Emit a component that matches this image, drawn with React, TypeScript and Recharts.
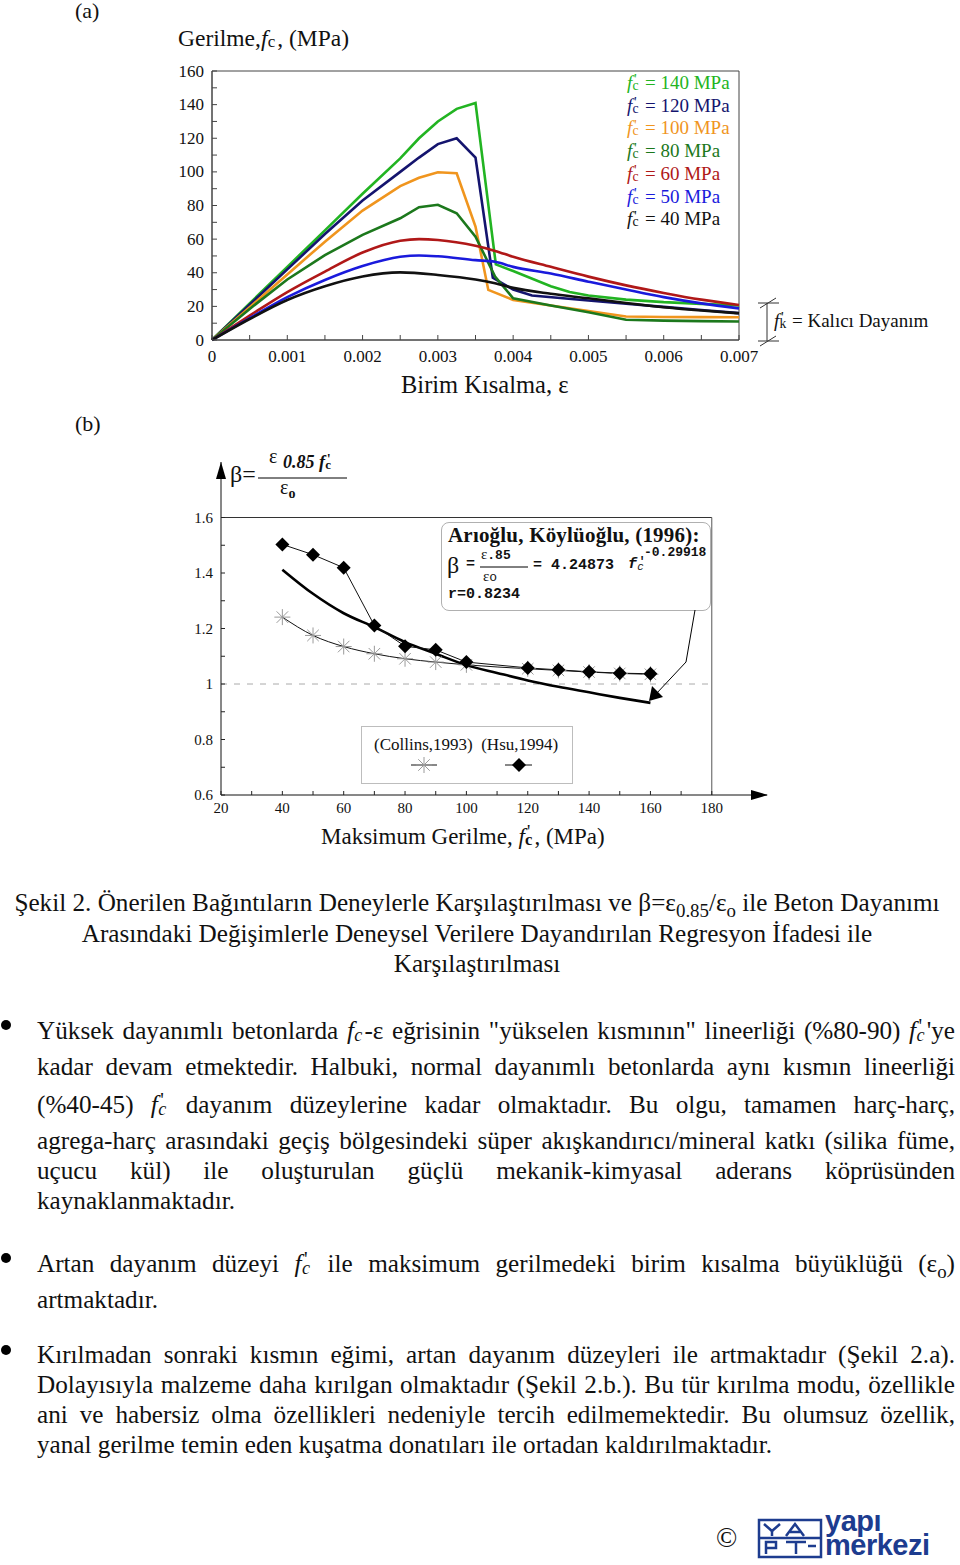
import React from 'react';
import { LineChart, ComposedChart, Line, XAxis, YAxis, ReferenceLine, ReferenceArea } from 'recharts';

const SERIF = "'Liberation Serif', 'Times New Roman', serif";
const MONO = "'Liberation Mono', 'Courier New', monospace";
const SANS = "'Liberation Sans', Arial, sans-serif";

// (a) stress-strain curves, [strain, stress MPa]
const strainTicks = [0, 0.0005, 0.001, 0.0015, 0.002, 0.0025, 0.003, 0.0035, 0.004, 0.0045, 0.005, 0.0055, 0.006, 0.0065, 0.007];
const stressTicks = [0, 10, 20, 30, 40, 50, 60, 70, 80, 90, 100, 110, 120, 130, 140, 150, 160];

const curve140: [number, number][] = [
  [0, 0], [0.0005, 21.8], [0.001, 43.5], [0.0015, 65.2], [0.002, 87], [0.0025, 108], [0.00275, 120],
  [0.003, 130], [0.00325, 137.5], [0.0035, 141], [0.00377, 45], [0.004, 41], [0.0045, 32], [0.00475, 28.5],
  [0.005, 26.5], [0.0055, 24], [0.006, 22.5], [0.0065, 21.5], [0.007, 20.5],
];
const curve120: [number, number][] = [
  [0, 0], [0.0005, 21], [0.001, 42], [0.0015, 63], [0.002, 83], [0.0025, 100], [0.00275, 108.5],
  [0.003, 116.5], [0.00325, 120], [0.0035, 108.5], [0.00373, 37], [0.004, 30], [0.00425, 26.5],
  [0.005, 23.5], [0.0055, 21.6], [0.006, 19.7], [0.0065, 17.8], [0.007, 16],
];
const curve100: [number, number][] = [
  [0, 0], [0.0005, 19.5], [0.001, 39], [0.0015, 58.5], [0.002, 77], [0.0025, 91.5], [0.00275, 96.5],
  [0.003, 99.8], [0.00325, 99.2], [0.0035, 67.5], [0.00367, 29.8], [0.004, 23.8], [0.0045, 20.5],
  [0.005, 17.3], [0.0055, 14], [0.006, 13.7], [0.0065, 13.6], [0.007, 13.5],
];
const curve80: [number, number][] = [
  [0, 0], [0.0005, 18.5], [0.001, 36], [0.0015, 50.5], [0.002, 62.5], [0.0025, 72.4], [0.00275, 79],
  [0.003, 80.4], [0.00325, 75.4], [0.0035, 61.5], [0.00376, 37.7], [0.004, 24.8], [0.0045, 20.5],
  [0.005, 16.5], [0.0055, 12], [0.006, 11.5], [0.0065, 11.2], [0.007, 11],
];
const curve60: [number, number][] = [
  [0, 0], [0.0005, 14.5], [0.001, 28.5], [0.0015, 40.7], [0.002, 52], [0.0025, 59], [0.00275, 60],
  [0.003, 59.5], [0.0035, 56], [0.00376, 53], [0.004, 49.5], [0.0045, 43.5], [0.005, 37.7],
  [0.0055, 32.5], [0.006, 28], [0.0065, 24], [0.007, 20.8],
];
const curve50: [number, number][] = [
  [0, 0], [0.0005, 13], [0.001, 25.5], [0.0015, 35.7], [0.002, 44], [0.0025, 49.5], [0.00275, 50.3],
  [0.003, 49.8], [0.0035, 47.5], [0.00376, 46.5], [0.004, 43.5], [0.0045, 39.5], [0.005, 34.7],
  [0.0055, 30], [0.006, 25.5], [0.0065, 21.8], [0.007, 18.8],
];
const curve40: [number, number][] = [
  [0, 0], [0.0005, 12.5], [0.001, 23.8], [0.0015, 32], [0.002, 37.8], [0.0025, 40.2], [0.003, 38.7],
  [0.0035, 36], [0.00376, 33.7], [0.004, 31], [0.0045, 27.5], [0.005, 24.8], [0.0055, 22],
  [0.006, 19.5], [0.0065, 17.5], [0.007, 15.9],
];

const seriesA = [
  { label: '140', color: '#22b422', pts: curve140, smooth: false },
  { label: '120', color: '#14146e', pts: curve120, smooth: false },
  { label: '100', color: '#f0951e', pts: curve100, smooth: false },
  { label: '80', color: '#1c781c', pts: curve80, smooth: false },
  { label: '60', color: '#b01818', pts: curve60, smooth: true },
  { label: '50', color: '#1a1adc', pts: curve50, smooth: true },
  { label: '40', color: '#111111', pts: curve40, smooth: true },
];

// (b) beta vs fc'
const fcTicks = [20, 30, 40, 50, 60, 70, 80, 90, 100, 110, 120, 130, 140, 150, 160, 170, 180];
const betaTicks = [0.6, 0.7, 0.8, 0.9, 1.0, 1.1, 1.2, 1.3, 1.4, 1.5, 1.6];
const hsuFc = [40, 50, 60, 70, 80, 90, 100, 120, 130, 140, 150, 160];
const hsuBeta = [1.503, 1.466, 1.419, 1.211, 1.136, 1.123, 1.079, 1.058, 1.051, 1.044, 1.039, 1.037];
const collinsFc = [40, 50, 60, 70, 80, 90, 100, 120, 130, 140, 150, 160];
const collinsBeta = [1.241, 1.175, 1.135, 1.109, 1.091, 1.079, 1.069, 1.055, 1.049, 1.043, 1.038, 1.035];
const regFc = [40, 50, 60, 70, 80, 90, 100, 110, 120, 130, 140, 150, 160];
const regBeta = [1.412, 1.325, 1.255, 1.205, 1.151, 1.109, 1.068, 1.04, 1.013, 0.99, 0.97, 0.95, 0.932];

const zip = (xs: number[], ys: number[]) => xs.map((x, i) => ({ x, y: ys[i] }));
const toPts = (a: [number, number][]) => a.map(([x, y]) => ({ x, y }));

type TickOpts = {
  side: 'x' | 'y';
  isMajor: (v: number) => boolean;
  fmt: (v: number) => string;
  fontSize: number;
  len: number;
  gap: number;
  color: string;
};

function AxisTick(props: any & { opts: TickOpts }) {
  const { x, y, payload, opts } = props;
  const v = payload.value as number;
  const major = opts.isMajor(v);
  if (opts.side === 'x') {
    return (
      <g>
        <line x1={x} x2={x} y1={y} y2={y - opts.len} stroke={opts.color} />
        {major && (
          <text x={x} y={y + opts.gap} textAnchor="middle" dominantBaseline="central" fontSize={opts.fontSize} fontFamily={SERIF} fill="#111">
            {opts.fmt(v)}
          </text>
        )}
      </g>
    );
  }
  return (
    <g>
      <line x1={x} x2={x + opts.len} y1={y} y2={y} stroke={opts.color} />
      {major && (
        <text x={x - opts.gap} y={y} textAnchor="end" dominantBaseline="central" fontSize={opts.fontSize} fontFamily={SERIF} fill="#111">
          {opts.fmt(v)}
        </text>
      )}
    </g>
  );
}

function Diamond(p: any) {
  const { cx, cy } = p;
  if (cx == null || cy == null) return null;
  const r = 7;
  return <polygon points={`${cx},${cy - r} ${cx + r},${cy} ${cx},${cy + r} ${cx - r},${cy}`} fill="#000" />;
}

function Asterisk(p: any) {
  const { cx, cy } = p;
  if (cx == null || cy == null) return null;
  const r = 8;
  const d = r * 0.72;
  return (
    <g stroke="#9a9a9a" strokeWidth={1}>
      <line x1={cx - r} x2={cx + r} y1={cy} y2={cy} />
      <line x1={cx} x2={cx} y1={cy - r} y2={cy + r} />
      <line x1={cx - d} x2={cx + d} y1={cy - d} y2={cy + d} />
      <line x1={cx - d} x2={cx + d} y1={cy + d} y2={cy - d} />
    </g>
  );
}

// f with prime and subscript, stacked
function Fc({ sub = 'c', prime = true, subItalic = false, subBold = false }: { sub?: string; prime?: boolean; subItalic?: boolean; subBold?: boolean }) {
  return (
    <span style={{ whiteSpace: 'nowrap' }}>
      <i>f</i>
      <span style={{ display: 'inline-block', position: 'relative', width: '0.42em', lineHeight: 1 }}>
        &nbsp;
        {prime && <span style={{ position: 'absolute', left: '0.12em', top: '-0.1em', fontSize: '0.8em', fontStyle: 'normal' }}>'</span>}
        <span style={{ position: 'absolute', left: '0.02em', top: '0.44em', fontSize: '0.72em', fontStyle: subItalic ? 'italic' : 'normal', fontWeight: subBold ? 700 : 400 }}>{sub}</span>
      </span>
    </span>
  );
}

const abs = (left: number, top: number, extra: React.CSSProperties = {}): React.CSSProperties => ({
  position: 'absolute',
  left,
  top,
  whiteSpace: 'nowrap',
  ...extra,
});

const BODY = 25.2;

function TextLine({ top, left = 37, width = 918, justify = false, center = false, children }: any) {
  return (
    <div
      style={{
        position: 'absolute',
        top,
        left,
        width,
        fontSize: BODY,
        lineHeight: '26px',
        textAlign: center ? 'center' : justify ? 'justify' : 'left',
        textAlignLast: justify ? 'justify' : center ? 'center' : 'left',
      }}
    >
      {children}
    </div>
  );
}

const sub = (s: string) => <sub style={{ fontSize: '0.75em', verticalAlign: '-0.3em', lineHeight: 0 }}>{s}</sub>;

function ChartA() {
  const xOpts: TickOpts = {
    side: 'x',
    isMajor: (v) => Math.abs(v * 1000 - Math.round(v * 1000)) < 1e-6,
    fmt: (v) => (v === 0 ? '0' : v.toFixed(3)),
    fontSize: 17,
    len: 5,
    gap: 16,
    color: '#444',
  };
  const yOpts: TickOpts = {
    side: 'y',
    isMajor: (v) => v % 20 === 0,
    fmt: (v) => String(v),
    fontSize: 17,
    len: 5,
    gap: 8,
    color: '#444',
  };
  return (
    <LineChart width={960} height={420} margin={{ top: 71, right: 221, bottom: 50, left: 172 }}>
      <XAxis
        dataKey="x"
        type="number"
        domain={[0, 0.007]}
        ticks={strainTicks}
        interval={0}
        tickSize={0}
        tickMargin={0}
        height={30}
        stroke="#444"
        tick={(p: any) => <AxisTick {...p} opts={xOpts} />}
        allowDuplicatedCategory={false}
      />
      <YAxis
        type="number"
        domain={[0, 160]}
        ticks={stressTicks}
        interval={0}
        tickSize={0}
        tickMargin={0}
        width={40}
        stroke="#444"
        tick={(p: any) => <AxisTick {...p} opts={yOpts} />}
      />
      <ReferenceArea x1={0} x2={0.007} y1={0} y2={160} fill="none" stroke="#444" strokeWidth={1} />
      {seriesA.map((s) => (
        <Line
          key={s.label}
          data={toPts(s.pts)}
          dataKey="y"
          type={s.smooth ? 'monotone' : 'linear'}
          stroke={s.color}
          strokeWidth={2.6}
          dot={false}
          isAnimationActive={false}
        />
      ))}
    </LineChart>
  );
}

function ChartB() {
  const xOpts: TickOpts = {
    side: 'x',
    isMajor: (v) => v % 20 === 0,
    fmt: (v) => String(v),
    fontSize: 15,
    len: 4,
    gap: 13,
    color: '#222',
  };
  const yOpts: TickOpts = {
    side: 'y',
    isMajor: (v) => Math.round(v * 10) % 2 === 0,
    fmt: (v) => (Math.abs(v - 1) < 1e-9 ? '1' : v.toFixed(1)),
    fontSize: 15,
    len: 4,
    gap: 8,
    color: '#222',
  };
  return (
    <ComposedChart width={960} height={440} margin={{ top: 32, right: 193, bottom: 45, left: 181 }}>
      <XAxis
        dataKey="x"
        type="number"
        domain={[20, 198]}
        ticks={fcTicks}
        interval={0}
        tickSize={0}
        tickMargin={0}
        height={30}
        stroke="#111"
        tick={(p: any) => <AxisTick {...p} opts={xOpts} />}
        allowDuplicatedCategory={false}
      />
      <YAxis
        type="number"
        domain={[0.6, 1.8]}
        ticks={betaTicks}
        interval={0}
        tickSize={0}
        tickMargin={0}
        width={40}
        stroke="#111"
        tick={(p: any) => <AxisTick {...p} opts={yOpts} />}
      />
      <ReferenceLine segment={[{ x: 20, y: 1.6 }, { x: 180, y: 1.6 }]} stroke="#333" />
      <ReferenceLine segment={[{ x: 180, y: 0.6 }, { x: 180, y: 1.6 }]} stroke="#555" />
      <ReferenceLine segment={[{ x: 20, y: 1 }, { x: 180, y: 1 }]} stroke="#aaa" strokeDasharray="6 7" />
      <Line
        data={zip(collinsFc, collinsBeta)}
        dataKey="y"
        type="monotone"
        stroke="#111"
        strokeWidth={1}
        dot={(p: any) => <Asterisk key={`c${p.index}`} {...p} />}
        isAnimationActive={false}
      />
      <Line
        data={zip(regFc, regBeta)}
        dataKey="y"
        type="monotone"
        stroke="#000"
        strokeWidth={2.6}
        dot={false}
        isAnimationActive={false}
      />
      <Line
        data={zip(hsuFc, hsuBeta)}
        dataKey="y"
        type="linear"
        stroke="#111"
        strokeWidth={1}
        dot={(p: any) => <Diamond key={`h${p.index}`} {...p} />}
        isAnimationActive={false}
      />
    </ComposedChart>
  );
}

export default function App() {
  return (
    <div style={{ position: 'absolute', left: 0, top: 0, width: 960, height: 1565, background: '#fff', fontFamily: SERIF, color: '#111', overflow: 'hidden' }}>
      <div style={abs(75, 0, { fontSize: 22, lineHeight: '22px' })}>(a)</div>
      <div style={abs(75, 411, { fontSize: 22 })}>(b)</div>

      {/* chart (a) */}
      <div style={{ position: 'absolute', left: 0, top: 0 }}>
        <ChartA />
      </div>
      <div style={abs(178, 25, { fontSize: 23.5 })}>
        Gerilme,<Fc prime={false} />, (MPa)
      </div>
      <div style={abs(401, 371, { fontSize: 24.5 })}>Birim Kısalma, ε</div>
      <div style={abs(627, 72, { fontSize: 19, lineHeight: '22.7px' })}>
        {seriesA.map((s) => (
          <div key={s.label} style={{ color: s.color }}>
            <Fc /> = {s.label} MPa
          </div>
        ))}
      </div>
      <div style={abs(774, 310, { fontSize: 19 })}>
        <Fc sub="k" /> = Kalıcı Dayanım
      </div>

      {/* chart (b) */}
      <div style={{ position: 'absolute', left: 0, top: 430 }}>
        <ChartB />
      </div>
      <div style={abs(230, 461, { fontSize: 24 })}>β=</div>
      <div style={abs(269, 445, { fontSize: 20 })}>ε</div>
      <div style={abs(283, 452, { fontSize: 18, fontWeight: 700, fontStyle: 'italic' })}>
        0.85 <Fc prime subBold />
      </div>
      <div style={abs(280, 476, { fontSize: 20 })}>
        ε<span style={{ fontSize: 14, fontWeight: 700, position: 'relative', top: 4 }}>o</span>
      </div>
      <div style={abs(321, 824, { fontSize: 23 })}>
        Maksimum Gerilme, <Fc subBold />, (MPa)
      </div>

      {/* regression note */}
      <div style={{ position: 'absolute', left: 441, top: 522, width: 268, height: 87, border: '1px solid #b0b0b0', borderRadius: 8, background: '#fff' }} />
      <div style={abs(448, 523, { fontSize: 21, fontWeight: 700, letterSpacing: 0.2 })}>Arıoğlu, Köylüoğlu, (1996):</div>
      <div style={abs(447, 552, { fontSize: 24 })}>β</div>
      <div style={abs(466, 556, { fontFamily: MONO, fontSize: 15, fontWeight: 700 })}>=</div>
      <div style={abs(481, 546, { fontSize: 15 })}>
        ε<span style={{ fontFamily: MONO, fontWeight: 700, fontSize: 13 }}>.85</span>
      </div>
      <div style={abs(483, 568, { fontSize: 15 })}>
        ε<span style={{ fontFamily: MONO, fontSize: 13 }}>o</span>
      </div>
      <div style={abs(533, 557, { fontFamily: MONO, fontSize: 15, fontWeight: 700 })}>= 4.24873</div>
      <div style={abs(628, 556, { fontFamily: MONO, fontSize: 15, fontWeight: 700 })}>
        <Fc subItalic />
      </div>
      <div style={abs(644, 545, { fontFamily: MONO, fontSize: 13, fontWeight: 700 })}>-0.29918</div>
      <div style={abs(448, 586, { fontFamily: MONO, fontSize: 15, fontWeight: 700 })}>r=0.8234</div>

      {/* legend (b) */}
      <div style={{ position: 'absolute', left: 361, top: 726, width: 210, height: 56, border: '1px solid #bdbdbd', background: '#fff' }} />
      <div style={abs(374, 735, { fontSize: 17 })}>(Collins,1993)&nbsp; (Hsu,1994)</div>

      <svg width={960} height={1565} style={{ position: 'absolute', left: 0, top: 0, pointerEvents: 'none' }}>
        {/* legend symbols */}
        <line x1={411} x2={437} y1={765} y2={765} stroke="#111" />
        <Asterisk cx={424} cy={765} />
        <line x1={505} x2={532} y1={765} y2={765} stroke="#111" />
        <Diamond cx={519} cy={765} />
        {/* axis arrows (b) */}
        <polygon points="221,462 216,479 226,479" fill="#000" />
        <polygon points="768,795 751,790 751,800" fill="#000" />
        {/* beta fraction bar */}
        <line x1={258} x2={347} y1={478} y2={478} stroke="#000" strokeWidth={1} />
        <line x1={480} x2={528} y1={567} y2={567} stroke="#000" strokeWidth={1} />
        {/* pointer from note to curve */}
        <polyline points="695,610 686,662 656,694" fill="none" stroke="#000" strokeWidth={1} />
        <polygon points="649,701 652,686 663,697" fill="#000" />
        {/* f'k marker */}
        <line x1={767} x2={767} y1={303} y2={341} stroke="#333" />
        <line x1={758} x2={779} y1={303} y2={303} stroke="#333" />
        <line x1={760} x2={776} y1={308} y2={298} stroke="#333" />
        <line x1={758} x2={779} y1={341} y2={341} stroke="#333" />
        <line x1={760} x2={776} y1={346} y2={336} stroke="#333" />
        {/* bullets */}
        <circle cx={6} cy={1025} r={5} fill="#000" />
        <circle cx={6} cy={1258} r={5} fill="#000" />
        <circle cx={6} cy={1350} r={5} fill="#000" />
        {/* logo mark */}
        <g stroke="#1d3c8f" strokeWidth={2.5} fill="none">
          <rect x={759} y={1520} width={62} height={37} />
          <line x1={759} x2={821} y1={1538} y2={1538} />
          <polyline points="764,1524 772,1531 780,1524" />
          <line x1={772} x2={772} y1={1531} y2={1536} />
          <polyline points="786,1536 795,1524 804,1536" />
          <line x1={790} x2={800} y1={1532} y2={1532} />
          <polyline points="766,1554 766,1542 776,1542 776,1548 766,1548" />
          <line x1={786} x2={806} y1={1542} y2={1542} />
          <line x1={796} x2={796} y1={1542} y2={1554} />
          <line x1={808} x2={816} y1={1546} y2={1546} />
        </g>
      </svg>

      {/* caption */}
      <TextLine top={890} left={0} width={954} center>
        Şekil 2. Önerilen Bağıntıların Deneylerle Karşılaştırılması ve β=ε{sub('0.85')}/ε{sub('o')} ile Beton Dayanımı
      </TextLine>
      <TextLine top={921} left={0} width={954} center>
        Arasındaki Değişimlerle Deneysel Verilere Dayandırılan Regresyon İfadesi ile
      </TextLine>
      <TextLine top={951} left={0} width={954} center>
        Karşılaştırılması
      </TextLine>

      {/* paragraphs */}
      <TextLine top={1018} justify>
        Yüksek dayanımlı betonlarda <Fc prime={false} subItalic />-ε eğrisinin "yükselen kısmının" lineerliği (%80-90) <Fc subItalic />'ye
      </TextLine>
      <TextLine top={1054} justify>
        kadar devam etmektedir. Halbuki, normal dayanımlı betonlarda aynı kısmın lineerliği
      </TextLine>
      <TextLine top={1092} justify>
        (%40-45) <Fc subItalic /> dayanım düzeylerine kadar olmaktadır. Bu olgu, tamamen harç-harç,
      </TextLine>
      <TextLine top={1128} justify>
        agrega-harç arasındaki geçiş bölgesindeki süper akışkandırıcı/mineral katkı (silika füme,
      </TextLine>
      <TextLine top={1158} justify>
        uçucu kül) ile oluşturulan güçlü mekanik-kimyasal aderans köprüsünden
      </TextLine>
      <TextLine top={1188}>kaynaklanmaktadır.</TextLine>

      <TextLine top={1251} justify>
        Artan dayanım düzeyi <Fc subItalic /> ile maksimum gerilmedeki birim kısalma büyüklüğü (ε{sub('o')})
      </TextLine>
      <TextLine top={1287}>artmaktadır.</TextLine>

      <TextLine top={1342} justify>
        Kırılmadan sonraki kısmın eğimi, artan dayanım düzeyleri ile artmaktadır (Şekil 2.a).
      </TextLine>
      <TextLine top={1372} justify>
        Dolayısıyla malzeme daha kırılgan olmaktadır (Şekil 2.b.). Bu tür kırılma modu, özellikle
      </TextLine>
      <TextLine top={1402} justify>
        ani ve habersiz olma özellikleri nedeniyle tercih edilmemektedir. Bu olumsuz özellik,
      </TextLine>
      <TextLine top={1432}>yanal gerilme temin eden kuşatma donatıları ile ortadan kaldırılmaktadır.</TextLine>

      {/* footer */}
      <div style={abs(716, 1522, { fontSize: 28 })}>©</div>
      <div style={abs(825, 1509, { fontFamily: SANS, fontWeight: 700, fontSize: 29, color: '#1d3c8f', lineHeight: '24px', letterSpacing: -0.5 })}>yapı</div>
      <div style={abs(825, 1533, { fontFamily: SANS, fontWeight: 700, fontSize: 29, color: '#1d3c8f', lineHeight: '24px', letterSpacing: -0.5 })}>merkezi</div>
    </div>
  );
}
